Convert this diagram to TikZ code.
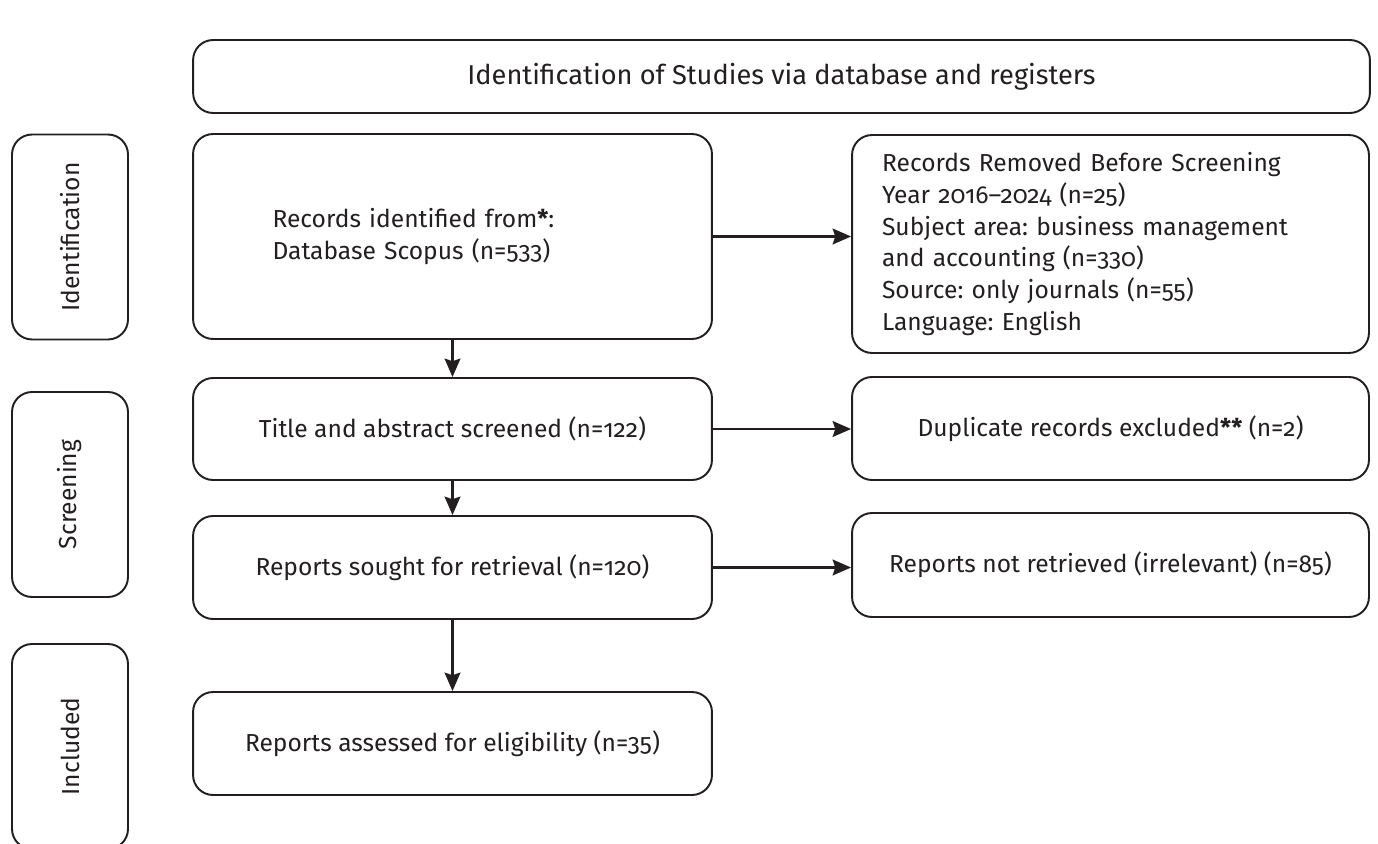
\documentclass[tikz,border=0pt]{standalone}
\usepackage{fontspec}
\setmainfont{Fira Sans}[Numbers=OldStyle]
\usepackage{tikz}
\usetikzlibrary{arrows.meta}

\definecolor{ink}{RGB}{35,31,32}
\frenchspacing

\tikzset{
    box/.style={draw=ink, text=ink, line width=1.1pt, rounded corners=0.4cm,
        inner sep=0pt, font=\fontsize{14}{18}\selectfont},
    sidebox/.style={box, rotate=90, minimum width=4.1cm, minimum height=2.32cm},
    flow/.style={draw=ink, line width=1.3pt, -{Stealth[length=10.5pt,width=9pt,inset=1.5pt]}}
}

\begin{document}
\begin{tikzpicture}[x=0.02cm, y=-0.02cm]
    \useasboundingbox (0,0) rectangle (1378,844);

    % Titel
    \node[box, minimum width=23.54cm, minimum height=1.46cm, font=\fontsize{15.5}{18}\selectfont]
        (title) at (781.5,76.5)
        {Identification of Studies via database and registers};

    % Fasen links
    \node[sidebox] (phaseid) at (70,237) {Identification};
    \node[sidebox] (phasescr) at (70,494.5) {Screening};
    \node[sidebox] (phaseinc) at (70,746.5) {Included};

    % Hoofdkolom
    \node[box, minimum width=10.38cm, minimum height=4.1cm, text width=7.2cm, align=left]
        (ident) at (452.5,236.5)
        {Records identified from\textbf{*}:\\ Database Scopus (n=533)};
    \node[box, minimum width=10.38cm, minimum height=2.04cm] (screened) at (452.5,429)
        {Title and abstract screened (n=122)};
    \node[box, minimum width=10.38cm, minimum height=2.06cm] (sought) at (452.5,567.5)
        {Reports sought for retrieval (n=120)};
    \node[box, minimum width=10.38cm, minimum height=2.06cm] (assessed) at (452.5,743.5)
        {Reports assessed for eligibility (n=35)};

    % Rechterkolom
    \node[box, minimum width=10.34cm, minimum height=4.36cm, text width=9.14cm, align=left]
        (removed) at (1110.5,244)
        {Records Removed Before Screening\\
         Year 2016--2024 (n=25)\\
         Subject area: business management\\
         and accounting (n=330)\\
         Source: only journals (n=55)\\
         Language: English};
    \node[box, minimum width=10.34cm, minimum height=2.06cm] (duplicate) at (1110.5,428.5)
        {Duplicate records excluded\textbf{**} (n=2)};
    \node[box, minimum width=10.34cm, minimum height=2.08cm] (notretr) at (1110.5,565)
        {Reports not retrieved (irrelevant) (n=85)};

    % Pijlen
    \draw[flow] (ident.east) -- (ident.east -| removed.west);
    \draw[flow] (screened.east) -- (screened.east -| duplicate.west);
    \draw[flow] (sought.east) -- (sought.east -| notretr.west);
    \draw[flow] (ident) -- (screened);
    \draw[flow] (screened) -- (sought);
    \draw[flow] (sought) -- (assessed);
\end{tikzpicture}
\end{document}
